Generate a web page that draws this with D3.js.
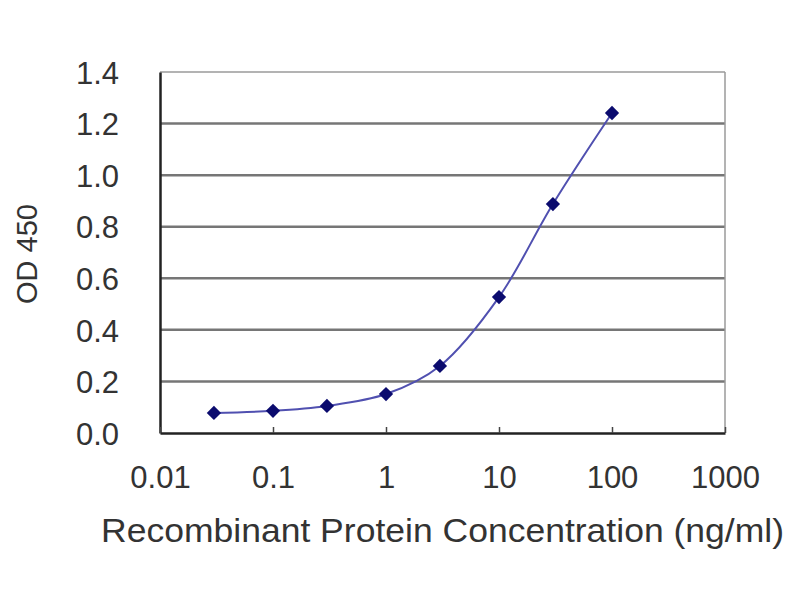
<!DOCTYPE html>
<html><head><meta charset="utf-8">
<script src="https://cdn.jsdelivr.net/npm/d3@7"></script>
<style>body{margin:0;background:#fff}text{font-family:"Liberation Sans",Arial,sans-serif;fill:#333}</style>
</head><body><svg id="c" width="800" height="600"></svg>
<script>
const concentrations = [0.03, 0.1, 0.3, 1, 3, 10, 30, 100];
const od450 = [0.078, 0.086, 0.105, 0.151, 0.26, 0.527, 0.888, 1.241];
const xTicks = [0.01, 0.1, 1, 10, 100, 1000];
const xTickLabels = ["0.01", "0.1", "1", "10", "100", "1000"];
const yTicks = [0, 0.2, 0.4, 0.6, 0.8, 1.0, 1.2, 1.4];

const svg = d3.select("#c");
const L = 160, R = 725, T = 72, B = 433;
const x = d3.scaleLog().domain([0.01, 1000]).range([L, R]);
const y = d3.scaleLinear().domain([0, 1.4]).range([B, T]);
const FF = '"Liberation Sans",Arial,sans-serif';

// gridlines
svg.append("g").selectAll("line").data(yTicks.filter(v => v > 0))
  .join("line").attr("x1", L).attr("x2", R)
  .attr("y1", d => y(d)).attr("y2", d => y(d))
  .attr("stroke", d => d === 1.4 ? "#9a9a9a" : "#767676").attr("stroke-width", d => d === 1.4 ? 1.5 : 2.5);
// right border
svg.append("line").attr("x1", R).attr("x2", R).attr("y1", T).attr("y2", B)
  .attr("stroke", "#9a9a9a").attr("stroke-width", 1.5);

// axes
const yAxis = d3.axisLeft(y).tickValues(yTicks).tickFormat(d3.format(".1f")).tickSize(0).tickPadding(41);
const gy = svg.append("g").attr("transform", `translate(${L},0)`).call(yAxis);
gy.select(".domain").attr("stroke", "#222").attr("stroke-width", 2.5);
gy.selectAll("text").attr("font-size", 31).attr("fill", "#3a3a3a").style("font-family", FF).attr("dy", "0.36em");

const xAxis = d3.axisBottom(x).tickValues(xTicks).tickFormat((d, i) => xTickLabels[i]).tickSizeInner(-6).tickSizeOuter(0).tickPadding(0);
const gx = svg.append("g").attr("transform", `translate(0,${B})`).call(xAxis);
gx.select(".domain").attr("stroke", "#222").attr("stroke-width", 2.5);
gx.selectAll(".tick line").attr("stroke", "#444").attr("stroke-width", 1.5);
gx.selectAll("text").attr("font-size", 31).attr("fill", "#3a3a3a").style("font-family", FF)
  .attr("y", 55).attr("dy", 0);

// line
const data = concentrations.map((c, i) => ({c, v: od450[i]}));
svg.append("path").datum(data)
  .attr("d", d3.line().x(d => x(d.c)).y(d => y(d.v)).curve(d3.curveCatmullRom.alpha(0.5)))
  .attr("fill", "none").attr("stroke", "#5050b0").attr("stroke-width", 2);
// markers
svg.append("g").selectAll("path").data(data).join("path")
  .attr("transform", d => `translate(${x(d.c)},${y(d.v)})`)
  .attr("d", d3.symbol(d3.symbolDiamond2, 130))
  .attr("fill", "#0b0b6e");

// titles
svg.append("text").attr("x", 101).attr("y", 542).attr("text-anchor", "start")
  .attr("font-size", 33).attr("fill", "#3a3a3a")
  .attr("textLength", 683).attr("lengthAdjust", "spacingAndGlyphs")
  .text("Recombinant Protein Concentration (ng/ml)");
svg.append("text").attr("transform", "translate(37,254) rotate(-90)").attr("text-anchor", "middle")
  .attr("font-size", 29).attr("fill", "#3a3a3a").text("OD 450");
</script></body></html>
